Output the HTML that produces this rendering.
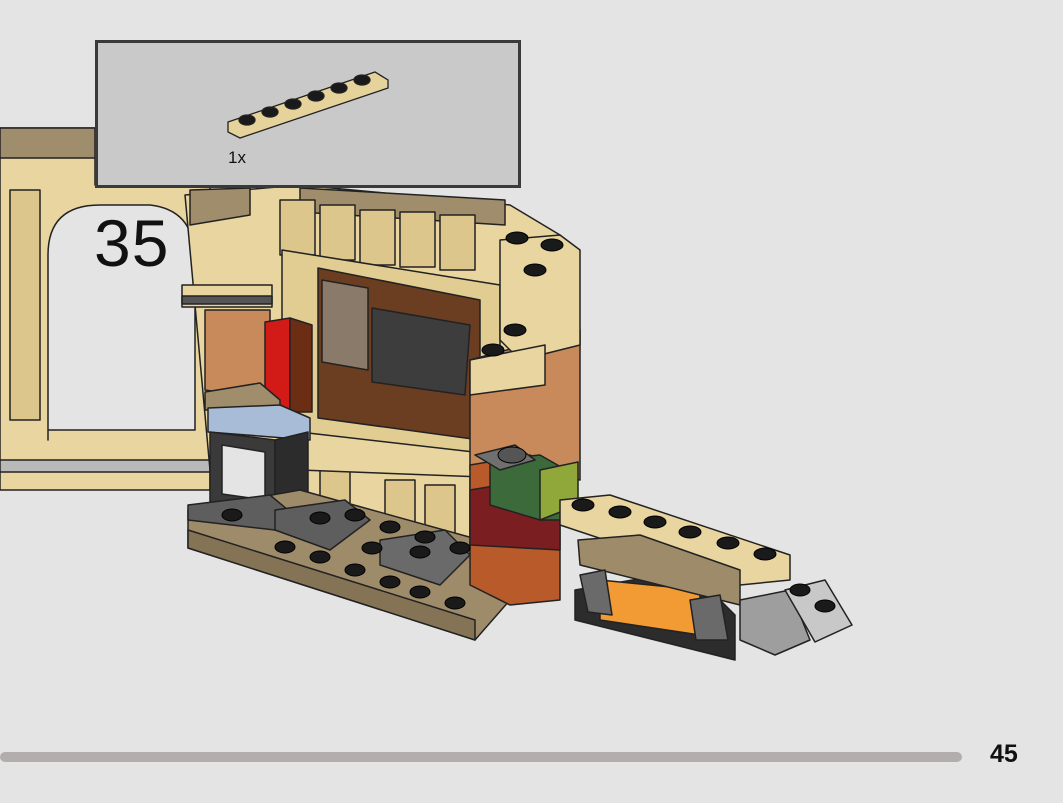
<!DOCTYPE html>
<html><head><meta charset="utf-8"><style>
html,body{margin:0;padding:0;background:#e4e4e4;}
body{width:1063px;height:803px;position:relative;overflow:hidden;font-family:"Liberation Sans",sans-serif;}
.box{position:absolute;left:95px;top:40px;width:420px;height:142px;border:3px solid #3a3a3a;background:#c9c9c9;}
.n35{position:absolute;left:94px;top:205px;font-size:66px;color:#111;letter-spacing:1px;}
.bar{position:absolute;left:0;top:752px;width:962px;height:10px;background:#b3adad;border-radius:5px;}
.pg{position:absolute;left:990px;top:740px;font-size:25px;font-weight:bold;color:#111;}
svg{position:absolute;left:0;top:0;}
</style></head><body>
<svg width="1063" height="803" viewBox="0 0 1063 803">
<g stroke="#222" stroke-width="1.5" stroke-linejoin="round">
<path d="M0 128 L95 128 L95 185 L210 185 L210 490 L0 490 Z" fill="#e8d59f"/>
<path d="M48 440 L48 255 Q48 205 100 205 L150 205 Q195 210 195 260 L195 430 L48 430 Z" fill="#e4e4e4"/>
<rect x="0" y="128" width="95" height="30" fill="#a08d6b"/>
<rect x="0" y="460" width="210" height="12" fill="#b9b9b9"/>
<rect x="10" y="190" width="30" height="230" fill="#dcc68c"/>
<path d="M300 430 L470 450 L470 540 L300 505 Z" fill="#e8d59f"/>
<g fill="#dcc68c"><rect x="320" y="470" width="30" height="45"/><rect x="385" y="480" width="30" height="50"/><rect x="425" y="485" width="30" height="50"/></g>
<path d="M185 195 L300 185 L510 205 L560 235 L560 480 L300 470 L210 470 Z" fill="#e8d59f"/>
<path d="M190 190 L250 188 L250 215 L190 225 Z" fill="#a08d6b"/>
<path d="M300 188 L505 200 L505 225 L300 212 Z" fill="#a08d6b"/>
<g fill="#dcc68c"><rect x="280" y="200" width="35" height="55"/><rect x="320" y="205" width="35" height="55"/><rect x="360" y="210" width="35" height="55"/><rect x="400" y="212" width="35" height="55"/><rect x="440" y="215" width="35" height="55"/></g>
<rect x="182" y="285" width="90" height="22" fill="#e8d59f"/>
<rect x="182" y="296" width="90" height="8" fill="#555"/>
<path d="M205 310 L270 310 L270 400 L205 390 Z" fill="#c88a5a"/>
<path d="M282 250 L500 285 L500 455 L282 430 Z" fill="#e1cc92"/>
<path d="M318 268 L480 300 L480 440 L318 418 Z" fill="#6b3e22"/>
<path d="M372 308 L470 325 L465 395 L372 382 Z" fill="#3d3d3d"/>
<path d="M322 280 L368 288 L368 370 L322 362 Z" fill="#8a7a6a"/>
<path d="M265 322 L290 318 L290 410 L265 410 Z" fill="#d21a17"/>
<path d="M290 318 L312 325 L312 412 L290 412 Z" fill="#6b2e14"/>
<path d="M205 392 L260 383 L280 400 L280 410 L205 410 Z" fill="#a08d6b"/>
<path d="M208 408 L280 405 L310 418 L310 440 L208 432 Z" fill="#a8bcd8"/>
<path d="M210 432 L275 440 L275 515 L210 505 Z" fill="#3a3a3a"/>
<path d="M275 440 L308 432 L308 500 L275 515 Z" fill="#2c2c2c"/>
<path d="M222 445 L265 452 L265 500 L222 494 Z" fill="#e4e4e4"/>
<path d="M470 360 L580 330 L580 480 L470 470 Z" fill="#c88a5a"/>
<path d="M500 240 L560 235 L580 250 L580 345 L520 360 L500 340 Z" fill="#e8d59f"/>
<path d="M470 360 L545 345 L545 385 L470 395 Z" fill="#e8d59f"/>
<path d="M188 510 L300 490 L480 540 L510 600 L475 640 L188 548 Z" fill="#9e8b6a"/>
<path d="M188 530 L475 620 L475 640 L188 548 Z" fill="#857355"/>
<path d="M188 505 L270 495 L300 520 L275 530 L188 520 Z" fill="#5e5e5e"/>
<path d="M275 510 L345 500 L370 520 L330 550 L275 530 Z" fill="#5e5e5e"/>
<path d="M380 540 L445 530 L470 555 L440 585 L380 565 Z" fill="#6a6a6a"/>
<path d="M470 465 L530 455 L560 470 L560 600 L510 605 L470 585 Z" fill="#b85a2a"/>
<path d="M470 490 L530 480 L560 495 L560 550 L470 545 Z" fill="#7a1e22"/>
<path d="M490 460 L540 455 L575 475 L575 520 L540 520 L490 505 Z" fill="#3d6a3a"/>
<path d="M540 470 L578 462 L578 505 L540 520 Z" fill="#90a83a"/>
<path d="M475 455 L515 445 L535 460 L500 470 Z" fill="#707070"/>
<path d="M560 500 L610 495 L790 555 L790 580 L740 585 L560 525 Z" fill="#e8d59f"/>
<path d="M575 590 L690 570 L735 615 L735 660 L575 620 Z" fill="#2c2c2c"/>
<path d="M600 580 L700 590 L700 635 L600 620 Z" fill="#f29a34"/>
<path d="M578 540 L640 535 L740 570 L740 605 L580 565 Z" fill="#9e8b6a"/>
<path d="M580 575 L605 570 L612 615 L588 612 Z" fill="#6a6a6a"/>
<path d="M690 600 L720 595 L728 640 L696 640 Z" fill="#6a6a6a"/>
<path d="M740 600 L790 590 L810 640 L775 655 L740 640 Z" fill="#9e9e9e"/>
<path d="M785 590 L825 580 L852 625 L815 642 Z" fill="#c8c8c8"/>
</g>
<g fill="#1a1a1a" stroke="#000">
<ellipse cx="517" cy="238" rx="11" ry="6"/><ellipse cx="552" cy="245" rx="11" ry="6"/><ellipse cx="535" cy="270" rx="11" ry="6"/>
<ellipse cx="515" cy="330" rx="11" ry="6"/><ellipse cx="493" cy="350" rx="11" ry="6"/>
<ellipse cx="232" cy="515" rx="10" ry="6"/><ellipse cx="320" cy="518" rx="10" ry="6"/>
<ellipse cx="355" cy="515" rx="10" ry="6"/><ellipse cx="390" cy="527" rx="10" ry="6"/><ellipse cx="425" cy="537" rx="10" ry="6"/>
<ellipse cx="285" cy="547" rx="10" ry="6"/><ellipse cx="320" cy="557" rx="10" ry="6"/><ellipse cx="355" cy="570" rx="10" ry="6"/><ellipse cx="390" cy="582" rx="10" ry="6"/>
<ellipse cx="420" cy="592" rx="10" ry="6"/><ellipse cx="455" cy="603" rx="10" ry="6"/><ellipse cx="372" cy="548" rx="10" ry="6"/><ellipse cx="420" cy="552" rx="10" ry="6"/>
<ellipse cx="460" cy="548" rx="10" ry="6"/>
<ellipse cx="583" cy="505" rx="11" ry="6"/><ellipse cx="620" cy="512" rx="11" ry="6"/><ellipse cx="655" cy="522" rx="11" ry="6"/><ellipse cx="690" cy="532" rx="11" ry="6"/><ellipse cx="728" cy="543" rx="11" ry="6"/><ellipse cx="765" cy="554" rx="11" ry="6"/>
<ellipse cx="800" cy="590" rx="10" ry="6"/><ellipse cx="825" cy="606" rx="10" ry="6"/>
<ellipse cx="512" cy="455" rx="14" ry="8" fill="#555"/>
</g>
</svg>
<div class="box"></div>
<svg width="1063" height="803"><g stroke="#222" stroke-width="1.3">
<path d="M228 122 L375 72 L388 80 L388 88 L240 138 L228 132 Z" fill="#e6d39b"/>
<g fill="#1a1a1a"><ellipse cx="247" cy="120" rx="8" ry="5"/><ellipse cx="270" cy="112" rx="8" ry="5"/><ellipse cx="293" cy="104" rx="8" ry="5"/><ellipse cx="316" cy="96" rx="8" ry="5"/><ellipse cx="339" cy="88" rx="8" ry="5"/><ellipse cx="362" cy="80" rx="8" ry="5"/></g>
</g><text x="228" y="163" font-family="Liberation Sans" font-size="17" fill="#111">1x</text></svg>
<div class="n35">35</div>
<div class="bar"></div>
<div class="pg">45</div>
</body></html>
